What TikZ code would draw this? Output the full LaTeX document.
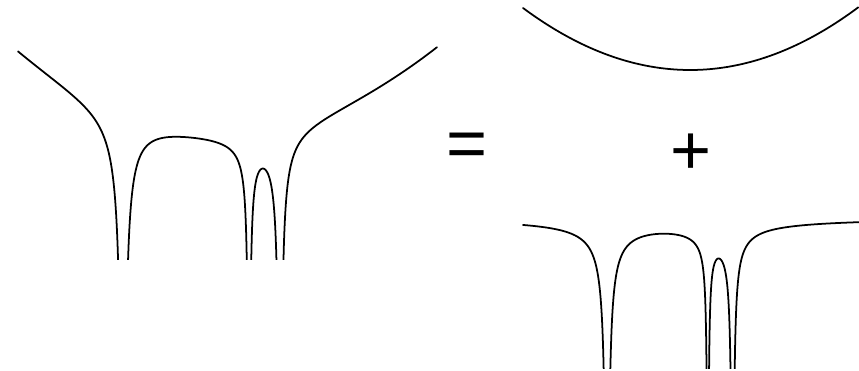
\documentclass[tikz,border=0pt]{standalone}
\usepackage{fontspec}
\newfontfamily\opfont{Liberation Sans}
\usepackage{tikz}
\tikzset{declare function={
  hh(\u)=2/abs(\u-123)+0.7/abs(\u-249)+1.2/abs(\u-280);
  pp(\u)=0.142*((\u-227)/10)^2;
}}
\begin{document}
\begin{tikzpicture}[x=0.03cm, y=-0.03cm, line join=round, line cap=round, curve/.style={line width=1.5pt}, sign/.style={font=\opfont\fontsize{60}{60}\selectfont, inner sep=0pt}]
\useasboundingbox (0,0) rectangle (859,371);
\begin{scope}
\clip (0,0) rectangle (859,260);
\foreach \a/\b in {18/122.8,123.2/248.8,249.2/279.8,280.2/437}
  \draw[curve] plot[domain=\a:\b, samples=400, smooth] ({\x},{min(266,118.6-1.25*pp(\x)+387.5*hh(\x))});
\end{scope}
\draw[curve] plot[domain=18:437, samples=120, smooth] ({523+0.8*(\x-18)},{70-pp(\x)});
\begin{scope}
\clip (0,0) rectangle (859,369);
\foreach \a/\b in {18/122.8,123.2/248.8,249.2/279.8,280.2/438}
  \draw[curve] plot[domain=\a:\b, samples=400, smooth] ({523+0.8*(\x-18)},{min(375,216.7+310*hh(\x))});
\end{scope}
\node[sign] (eq) at (467,150) {=};
\node[sign] (plus) at (691,154) {+};
\end{tikzpicture}
\end{document}
